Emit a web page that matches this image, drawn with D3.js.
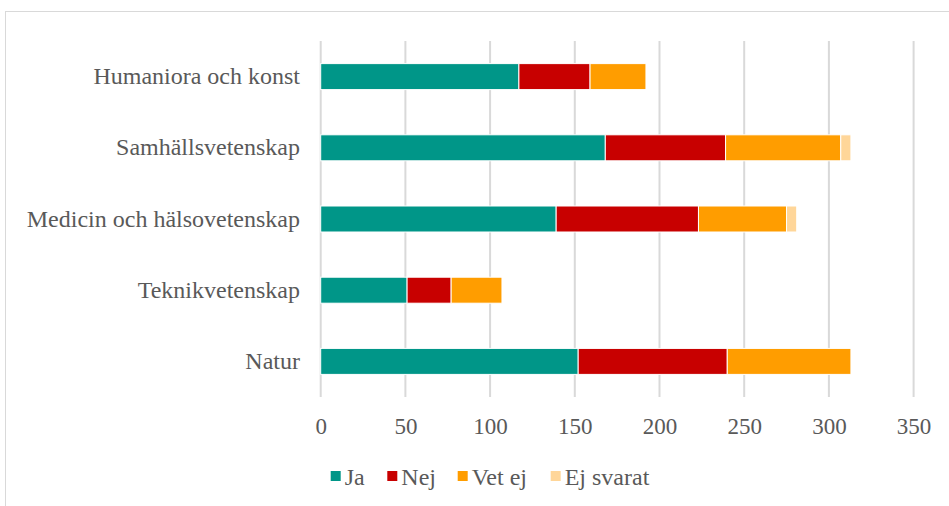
<!DOCTYPE html>
<html>
<head>
<meta charset="utf-8">
<script src="https://cdn.jsdelivr.net/npm/d3@7"></script>
<style>
  body { margin: 0; background: #fff; }
  text { font-family: "Liberation Serif", "Times New Roman", serif; fill: #595959; }
</style>
</head>
<body>
<div id="chart"></div>
<script>
// Data
const categories = ['Humaniora och konst', 'Samhällsvetenskap', 'Medicin och hälsovetenskap', 'Teknikvetenskap', 'Natur'];
const seriesNames = ['Ja', 'Nej', 'Vet ej', 'Ej svarat'];
const jaValues = [117, 168, 139, 51, 152];
const nejValues = [42, 71, 84, 26, 88];
const vetEjValues = [33, 68, 52, 30, 73];
const ejSvaratValues = [0, 6, 6, 0, 0];
const xTicks = [0, 50, 100, 150, 200, 250, 300, 350];
const colors = ['#009688', '#C80000', '#FF9D00', '#FFD699'];

const rows = categories.map((c, i) => ({
  cat: c,
  'Ja': jaValues[i],
  'Nej': nejValues[i],
  'Vet ej': vetEjValues[i],
  'Ej svarat': ejSvaratValues[i]
}));

//Chart dimensions
const W = 949, H = 506;
const margin = { top: 41, left: 320.7, right: 35.4, bot: 109 };
const width = W - margin.left - margin.right;
const height = H - margin.top - margin.bot;

const svg = d3.select('#chart').append('svg')
  .attr('width', W)
  .attr('height', H);

// outer frame
svg.append('rect')
  .attr('x', 5.5).attr('y', 11.5)
  .attr('width', W + 10).attr('height', H + 10)
  .attr('fill', 'none')
  .attr('stroke', '#D9D9D9')
  .attr('stroke-width', 1);

// Scales
const xScale = d3.scaleLinear()
  .domain([0, 350])
  .range([0, width]);

const yScale = d3.scaleBand()
  .domain(categories)
  .range([0, height])
  .paddingInner(0.635)
  .paddingOuter(0.3175);

const color = d3.scaleOrdinal().domain(seriesNames).range(colors);

const g = svg.append('g')
  .attr('transform', `translate(${margin.left}, ${margin.top})`);

// Gridlines
g.append('g')
  .selectAll('line')
  .data(xTicks)
  .join('line')
  .attr('x1', d => xScale(d)).attr('x2', d => xScale(d))
  .attr('y1', 0).attr('y2', height)
  .attr('stroke', '#D9D9D9')
  .attr('stroke-width', 2);

// Tick labels
const xAxis = d3.axisBottom(xScale).tickValues(xTicks).tickSize(0).tickPadding(0);
const xAxisGroup = g.append('g')
  .attr('transform', `translate(0, ${height})`)
  .call(xAxis);
xAxisGroup.select('.domain').remove();
xAxisGroup.selectAll('text')
  .attr('y', 37)
  .attr('dy', 0)
  .style('font-size', '23px')
  .attr('fill', '#595959');

// Category labels
const yAxis = d3.axisLeft(yScale).tickSize(0).tickPadding(20.7);
const yAxisGroup = g.append('g').call(yAxis);
yAxisGroup.select('.domain').remove();
yAxisGroup.selectAll('text')
  .style('font-size', '24px')
  .attr('fill', '#595959');

// Stacked bars
const stack = d3.stack().keys(seriesNames);
const layers = stack(rows);

g.append('g')
  .selectAll('g')
  .data(layers)
  .join('g')
  .attr('fill', d => color(d.key))
  .selectAll('rect')
  .data(d => d.filter(s => s[1] - s[0] > 0))
  .join('rect')
  .attr('x', d => xScale(d[0]))
  .attr('y', d => yScale(d.data.cat))
  .attr('width', d => xScale(d[1]) - xScale(d[0]))
  .attr('height', yScale.bandwidth())
  .attr('stroke', '#fff')
  .attr('stroke-width', 1);

// Legend
const legendX = [330.7, 387.3, 457.7, 550.7];
const legend = svg.append('g').attr('class', 'legend');
const items = legend.selectAll('g')
  .data(seriesNames)
  .join('g')
  .attr('transform', (d, i) => `translate(${legendX[i]}, 471)`);
items.append('rect')
  .attr('width', 10).attr('height', 10)
  .attr('fill', d => color(d));
items.append('text')
  .attr('x', 14)
  .attr('y', 14)
  .style('font-size', '24px')
  .text(d => d);
</script>
</body>
</html>
